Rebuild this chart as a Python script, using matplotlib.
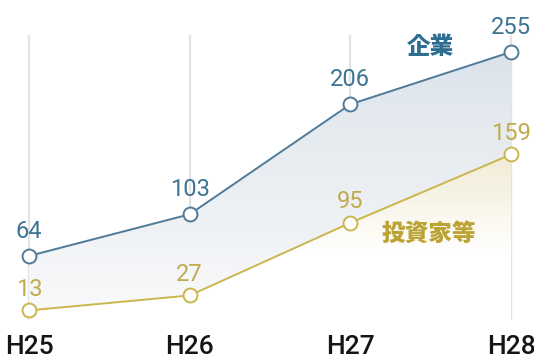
import numpy as np
import matplotlib
matplotlib.use("Agg")
import matplotlib.pyplot as plt
from matplotlib.colors import LinearSegmentedColormap
from matplotlib.patches import Polygon

years = ["H25", "H26", "H27", "H28"]
kigyo = [64, 103, 206, 255]
toshika = [13, 27, 95, 159]
series_names = ["企業", "投資家等"]

blue = "#4f7a98"
blue_text = "#3f7394"
gold = "#cbb64e"
gold_text = "#c2aa4e"

W, H = 534, 362
fig = plt.figure(figsize=(W / 100, H / 100), dpi=100)
px_per_unit = 1.068
zero_px = 324.3
ax = fig.add_axes([0, (H - zero_px) / H, 1, zero_px / H])
x = np.arange(len(years))
ymax = zero_px / px_per_unit

# vertical grid lines
ax.vlines(x, 4, 271, color="#e3e3e3", lw=1.6, zorder=0)

grad = np.linspace(0, 1, 256).reshape(-1, 1)

# gradient between the two lines (blue-grey)
cmap_b = LinearSegmentedColormap.from_list(
    "b", [(0.0, "#fcfcfd"), (0.15, "#f6f7f9"), (0.35, "#eff2f5"),
          (0.7, "#e6ebf0"), (1.0, "#dbe3eb")])
im_b = ax.imshow(grad, extent=[x[0], x[-1], 0, 255], origin="lower",
                 aspect="auto", cmap=cmap_b, zorder=1)
poly_b = Polygon(list(zip(x, kigyo)) + list(zip(x[::-1], toshika[::-1])),
                 closed=True, transform=ax.transData)
im_b.set_clip_path(poly_b)

# gradient under the lower line (cream)
cmap_g = LinearSegmentedColormap.from_list(
    "c", [(0.0, "#ffffff"), (0.4, "#ffffff"), (0.6, "#fbf9f1"),
          (0.8, "#f6f2e2"), (1.0, "#f1ecd6")])
im_g = ax.imshow(grad, extent=[x[0], x[-1], 0, 159], origin="lower",
                 aspect="auto", cmap=cmap_g, zorder=1)
poly_g = Polygon(list(zip(x, toshika)) + [(x[-1], 0), (x[0], 0)],
                 closed=True, transform=ax.transData)
im_g.set_clip_path(poly_g)

ax.set_xlim(-0.1805, 3.143)
ax.set_ylim(0, ymax)

ax.plot(x, kigyo, color=blue, lw=1.4, marker="o", ms=10,
        mfc="white", mec=blue, mew=1.4, zorder=3)
ax.plot(x, toshika, color=gold, lw=1.4, marker="o", ms=10,
        mfc="white", mec=gold, mew=1.4, zorder=3)

for xi, v in zip(x, kigyo):
    ax.annotate(str(v), (xi, v), xytext=(0, 13), textcoords="offset points",
                ha="center", va="baseline", fontsize=17, color=blue_text,
                family="Roboto", zorder=4)
for xi, v in zip(x, toshika):
    ax.annotate(str(v), (xi, v), xytext=(0, 10.5), textcoords="offset points",
                ha="center", va="baseline", fontsize=17, color=gold_text,
                family="Roboto", zorder=4)

ax.text(2.5, 260, series_names[0], ha="center", va="center", fontsize=17,
        fontweight="heavy", color="#2f6d90", family=["Noto Sans CJK JP", "DejaVu Sans"])
ax.text(2.49, 85, series_names[1], ha="center", va="center", fontsize=17,
        fontweight="heavy", color="#bba434", family=["Noto Sans CJK JP", "DejaVu Sans"])

ax.set_xticks(x)
ax.set_xticklabels(years, fontsize=19, color="#151515", family="Roboto",
                   fontweight="medium")
ax.tick_params(axis="x", length=0, pad=8)
ax.set_yticks([])
for s in ax.spines.values():
    s.set_visible(False)

fig.savefig("out.png", dpi=100, facecolor="white")
